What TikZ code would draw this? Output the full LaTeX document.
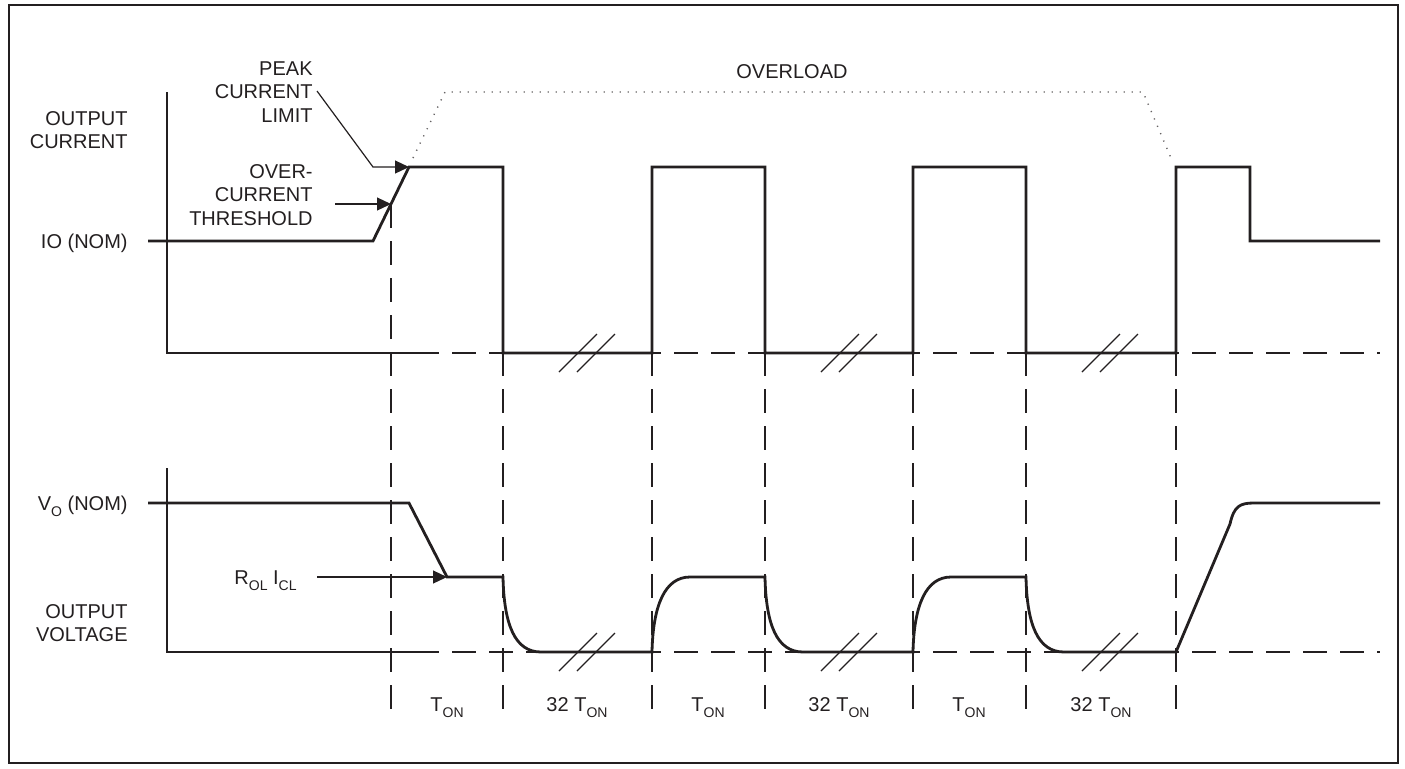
\documentclass[tikz,border=0pt]{standalone}
\usepackage{fontspec}
\setmainfont{Liberation Sans}
\usetikzlibrary{arrows.meta}
\definecolor{ink}{HTML}{231F20}
\newcommand{\subtxt}[1]{\raisebox{-3pt}{\fontsize{7}{7}\selectfont #1}}
\begin{document}
\begin{tikzpicture}[x=0.5pt, y=-0.5pt,
  lbl/.style={inner sep=0pt, text=ink, font=\fontsize{10}{11.75}\selectfont},
  axisline/.style={line width=0.7pt, draw=ink},
  signal/.style={line width=1.4pt, draw=ink, line join=miter},
  guide/.style={line width=0.7pt, draw=ink, dash pattern=on 12pt off 6.5pt},
  pointer/.style={line width=0.6pt, draw=ink, -{Triangle[length=7pt,width=6.5pt]}},
  breakmark/.style={line width=0.6pt, draw=ink},
  overdots/.style={line width=0.7pt, draw=ink!70, dash pattern=on 0.6pt off 3.4pt}]
\useasboundingbox (0,0) rectangle (1405,768);
\draw[line width=1pt, draw=ink] (9,5) rectangle (1398,763);

\node[lbl, anchor=east, align=right] (curlbl) at (128,130) {OUTPUT\\CURRENT};
\node[lbl, anchor=base east] (ionom) at (128,248) {IO (NOM)};
\node[lbl, anchor=east, align=right] (peaklbl) at (313,92) {PEAK\\CURRENT\\LIMIT};
\node[lbl, anchor=east, align=right] (threshlbl) at (313,195) {OVER-\\CURRENT\\THRESHOLD};
\node[lbl] (overload) at (792,72) {OVERLOAD};
\node[lbl, anchor=base east] (vonom) at (128,510) {V\subtxt{O} (NOM)};
\node[lbl, anchor=base east] (rollbl) at (297,584) {R\subtxt{OL} I\subtxt{CL}};
\node[lbl, anchor=east, align=right] (vollbl) at (128,623) {OUTPUT\\VOLTAGE};
\node[lbl, anchor=base] (ton1) at (447,711) {T\subtxt{ON}};
\node[lbl, anchor=base] (off1) at (577,711) {32 T\subtxt{ON}};
\node[lbl, anchor=base] (ton2) at (708,711) {T\subtxt{ON}};
\node[lbl, anchor=base] (off2) at (839,711) {32 T\subtxt{ON}};
\node[lbl, anchor=base] (ton3) at (969,711) {T\subtxt{ON}};
\node[lbl, anchor=base] (off3) at (1101,711) {32 T\subtxt{ON}};

\coordinate (pkstart) at (317,91);
\coordinate (pkbend) at (373,167);
\coordinate (pk) at (409,167);
\coordinate (thstart) at (335,204);
\coordinate (th) at (391,204);
\coordinate (rlstart) at (317,577);
\coordinate (rl) at (447,577);

\foreach \gx/\gy in {391/204, 503/167, 652/167, 765/167, 913/167, 1026/167, 1176/167}
  \draw[guide] (\gx,\gy) -- (\gx,712);

\draw[axisline] (167,92) -- (167,353) -- (415,353);
\draw[guide] (415,353) -- (1380,353);
\draw[axisline] (167,468) -- (167,652) -- (415,652);
\draw[guide] (415,652) -- (1380,652);

\draw[overdots] (413,158) -- (445,92) -- (1143,92) -- (1171,158);

\draw[signal] (148,241) -- (373,241) -- (pk) -- (503,167) -- (503,353) -- (652,353)
  -- (652,167) -- (765,167) -- (765,353) -- (913,353) -- (913,167) -- (1026,167)
  -- (1026,353) -- (1176,353) -- (1176,167) -- (1250,167) -- (1250,241) -- (1380,241);

\draw[signal] (148,503) -- (409,503) -- (rl) -- (503,577)
  .. controls (504,625) and (515,652) .. (541,652) -- (652,652)
  .. controls (653,605) and (665,577) .. (690,577) -- (765,577)
  .. controls (766,625) and (777,652) .. (803,652) -- (913,652)
  .. controls (914,605) and (926,577) .. (951,577) -- (1026,577)
  .. controls (1027,625) and (1038,652) .. (1064,652) -- (1176,652)
  -- (1230,524) .. controls (1234,506) and (1240,503) .. (1254,503) -- (1380,503);

\foreach \cx in {587, 849, 1110} {
  \foreach \by in {353, 652} {
    \draw[breakmark] (\cx-28,\by+19) -- (\cx+10,\by-19);
    \draw[breakmark] (\cx-10,\by+19) -- (\cx+28,\by-19);
  }
}

\draw[pointer] (pkstart) -- (pkbend) -- (pk);
\draw[pointer] (thstart) -- (th);
\draw[pointer] (rlstart) -- (rl);
\end{tikzpicture}
\end{document}
